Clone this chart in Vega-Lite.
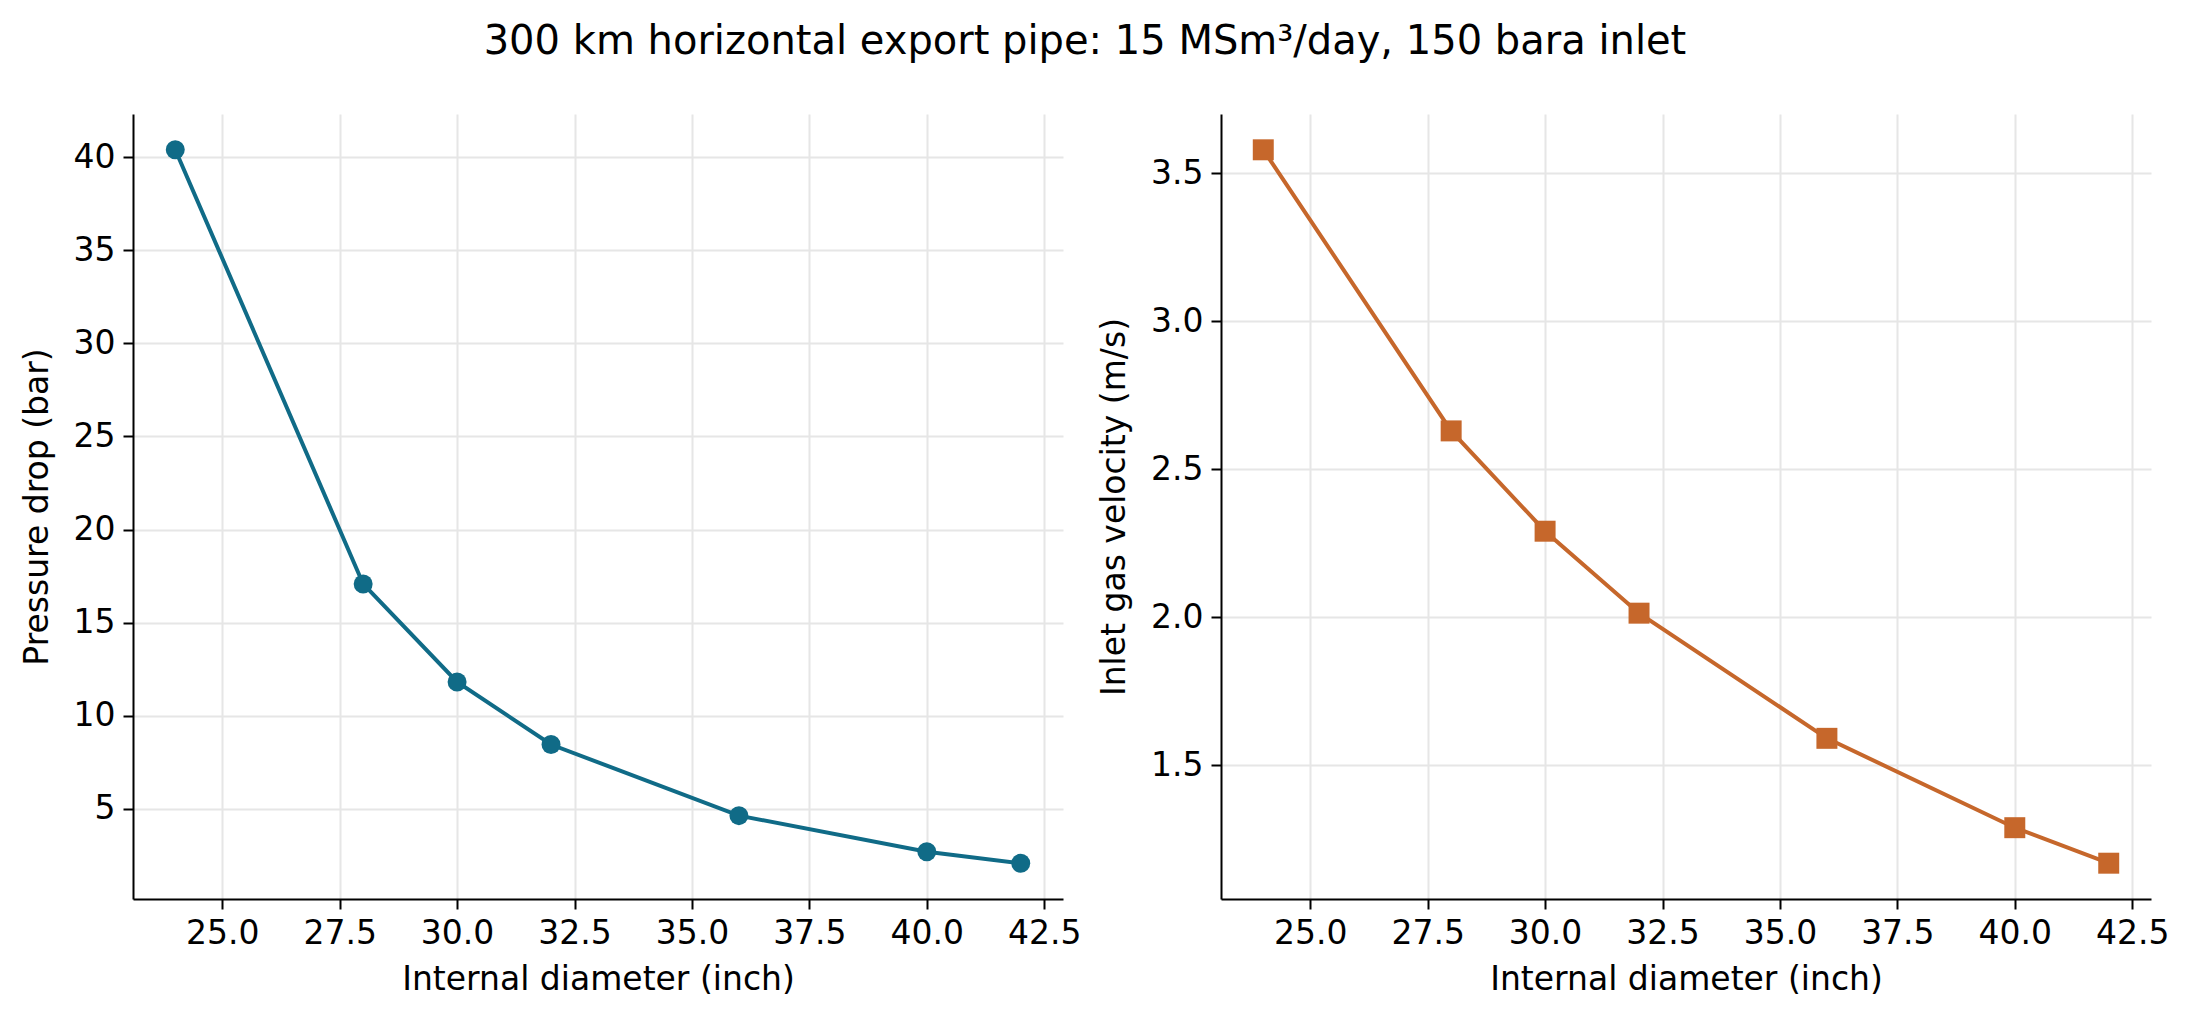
{
  "$schema": "https://vega.github.io/schema/vega-lite/v6.json",
  "padding": {"left": 21, "top": 22, "right": 0, "bottom": 0},
  "background": "white",
  "title": {
    "text": "300 km horizontal export pipe: 15 MSm³/day, 150 bara inlet",
    "font": "DejaVu Sans",
    "fontSize": 40,
    "fontWeight": "normal",
    "color": "black",
    "anchor": "middle",
    "offset": 52,
    "dx": -10
  },
  "data": {
    "values": [
      {"diameter": 24, "dp": 40.4, "velocity": 3.58},
      {"diameter": 28, "dp": 17.08, "velocity": 2.63},
      {"diameter": 30, "dp": 11.82, "velocity": 2.291},
      {"diameter": 32, "dp": 8.46, "velocity": 2.014},
      {"diameter": 36, "dp": 4.64, "velocity": 1.591},
      {"diameter": 40, "dp": 2.7, "velocity": 1.289},
      {"diameter": 42, "dp": 2.08, "velocity": 1.169}
    ]
  },
  "bounds": "flush",
  "spacing": 158,
  "hconcat": [
    {
      "width": 930,
      "height": 785,
      "mark": {"type": "line", "color": "#106b87", "strokeWidth": 4,
               "point": {"filled": true, "size": 360, "color": "#106b87", "opacity": 1}},
      "encoding": {
        "x": {"field": "diameter", "type": "quantitative",
              "scale": {"domain": [23.1, 42.9], "nice": false, "zero": false},
              "axis": {"title": "Internal diameter (inch)", "values": [25, 27.5, 30, 32.5, 35, 37.5, 40, 42.5], "format": ".1f"}},
        "y": {"field": "dp", "type": "quantitative",
              "scale": {"domain": [0.164, 42.316], "nice": false, "zero": false},
              "axis": {"title": "Pressure drop (bar)", "values": [5, 10, 15, 20, 25, 30, 35, 40], "format": "d"}}
      }
    },
    {
      "width": 930,
      "height": 785,
      "mark": {"type": "line", "color": "#c6672b", "strokeWidth": 4,
               "point": {"filled": true, "shape": "square", "size": 440, "color": "#c6672b", "opacity": 1}},
      "encoding": {
        "x": {"field": "diameter", "type": "quantitative",
              "scale": {"domain": [23.1, 42.9], "nice": false, "zero": false},
              "axis": {"title": "Internal diameter (inch)", "values": [25, 27.5, 30, 32.5, 35, 37.5, 40, 42.5], "format": ".1f"}},
        "y": {"field": "velocity", "type": "quantitative",
              "scale": {"domain": [1.048, 3.701], "nice": false, "zero": false},
              "axis": {"title": "Inlet gas velocity (m/s)", "values": [1.5, 2.0, 2.5, 3.0, 3.5], "format": ".1f"}}
      }
    }
  ],
  "config": {
    "view": {"stroke": null},
    "axis": {
      "domainColor": "black",
      "domainWidth": 2,
      "tickColor": "black",
      "tickWidth": 2,
      "tickSize": 10,
      "labelFont": "DejaVu Sans",
      "labelFontSize": 33,
      "labelColor": "black",
      "labelPadding": 8,
      "labelFlush": false,
      "labelOverlap": false,
      "titleFont": "DejaVu Sans",
      "titleFontSize": 33,
      "titleFontWeight": "normal",
      "titleColor": "black",
      "titlePadding": 19,
      "gridColor": "#e6e6e6",
      "gridWidth": 2
    },
    "axisX": {"titlePadding": 13}
  }
}
